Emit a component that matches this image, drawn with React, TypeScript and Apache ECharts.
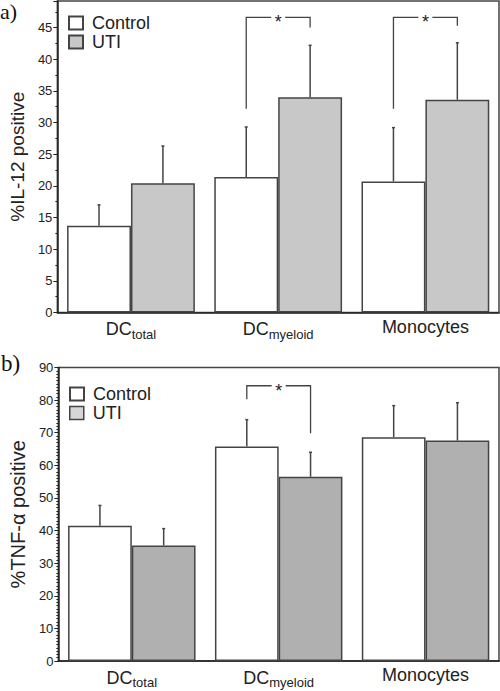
import React, { useEffect, useRef } from "react";
import * as echarts from "echarts";

const categories = ["DCtotal", "DCmyeloid", "Monocytes"];

const il12Control = [13.7, 21.4, 20.7];
const il12ControlErr = [3.3, 7.9, 8.5];
const il12Uti = [20.4, 34.0, 33.6];
const il12UtiErr = [5.9, 8.2, 9.0];

const tnfControl = [41.5, 65.8, 68.6];
const tnfControlErr = [6.2, 8.2, 9.7];
const tnfUti = [35.4, 56.5, 67.6];
const tnfUtiErr = [5.2, 7.5, 11.6];

// [category index, left foot, top, right foot]
const il12Brackets = [
  [1, 32.2, 46.6, 45.0],
  [2, 32.2, 46.6, 45.3],
];
const tnfBrackets = [[1, 80.3, 84.4, 69.8]];

const il12Ticks = [0, 5, 10, 15, 20, 25, 30, 35, 40, 45];
const tnfTicks = [0, 10, 20, 30, 40, 50, 60, 70, 80, 90];

const GAP = 0.132;
const EDGE = "#444";
const AXIS = "#222";
const FONT = "Liberation Sans, Arial, sans-serif";

function errData(means: number[], errs: number[], side: number) {
  return means.map((m, i) => [i, m, m + errs[i], side]);
}

const errRender = (params: any, api: any) => {
  const cat = api.value(0);
  const p = api.coord([cat, api.value(1)]);
  const pu = api.coord([cat, api.value(2)]);
  const band = api.size([1, 0])[0];
  const barW = (band * (1 - GAP)) / 2;
  const x = p[0] + (api.value(3) * barW) / 2;
  return {
    type: "group",
    children: [
      {
        type: "line",
        shape: { x1: x, y1: p[1], x2: x, y2: pu[1] },
        style: { stroke: EDGE, lineWidth: 1.5 },
      },
      {
        type: "line",
        shape: { x1: x - 1.5, y1: pu[1], x2: x + 1.5, y2: pu[1] },
        style: { stroke: EDGE, lineWidth: 1.5 },
      },
    ],
  };
};

const bracketRender = (params: any, api: any) => {
  const cat = api.value(0);
  const c = api.coord([cat, api.value(2)]);
  const lb = api.coord([cat, api.value(1)]);
  const rb = api.coord([cat, api.value(3)]);
  const band = api.size([1, 0])[0];
  const barW = (band * (1 - GAP)) / 2;
  const lx = c[0] - barW / 2;
  const rx = c[0] + barW / 2;
  const y = c[1];
  return {
    type: "group",
    children: [
      {
        type: "polyline",
        shape: { points: [[lx, lb[1]], [lx, y], [c[0] - 7, y]] },
        style: { stroke: EDGE, lineWidth: 1.3, fill: null },
      },
      {
        type: "polyline",
        shape: { points: [[c[0] + 7, y], [rx, y], [rx, rb[1]]] },
        style: { stroke: EDGE, lineWidth: 1.3, fill: null },
      },
      {
        type: "text",
        x: c[0],
        y: y + 5,
        style: {
          text: "*",
          fontSize: 18,
          fontFamily: FONT,
          fill: AXIS,
          align: "center",
          verticalAlign: "middle",
        },
      },
    ],
  };
};

const catLabel = (v: string) =>
  v.startsWith("DC") ? `{m|DC}{s|${v.slice(2)}}` : `{m|${v}}`;

const legendItem = (name: string, left: number, top: number, size: number, fill?: string) => ({
  orient: "vertical",
  left,
  top,
  padding: 0,
  itemWidth: size + 1,
  itemHeight: size,
  icon: "rect",
  data: [fill ? { name, itemStyle: { color: fill } } : name],
  ...(fill ? { itemStyle: { color: fill, borderColor: EDGE, borderWidth: 1.5 } } : {}),
  formatter: (n: string) => n.trim(),
  textStyle: { fontSize: 18, fontFamily: FONT, color: AXIS, padding: [0, 0, 0, 4] },
});

export default function App() {
  const ref = useRef<HTMLDivElement>(null);
  useEffect(() => {
    if (!ref.current) return;
    const chart = echarts.init(ref.current, null, { renderer: "svg" });
    const xAxisBase = (gridIndex: number) => ({
      type: "category",
      gridIndex,
      data: categories,
      axisTick: { show: false },
      axisLine: { lineStyle: { color: AXIS, width: 1.5 } },
      axisLabel: {
        margin: 5,
        formatter: catLabel,
        rich: {
          m: { fontSize: 18, fontFamily: FONT, color: AXIS },
          s: { fontSize: 13, fontFamily: FONT, color: AXIS, padding: [10, 0, 0, 0] },
        },
      },
    });
    const labelFmt = (ticks: number[]) => (v: number) =>
      ticks.indexOf(Math.round(v * 100) / 100) >= 0 ? String(v) : "";
    chart.setOption({
      animation: false,
      grid: [
        {
          left: 46,
          top: 1,
          width: 453,
          height: 311.5,
          show: true,
          borderColor: EDGE,
          borderWidth: 1.5,
        },
        {
          left: 47.5,
          top: 367.5,
          width: 451.5,
          height: 293.5,
          show: true,
          borderColor: EDGE,
          borderWidth: 1.5,
        },
      ],
      legend: [
        legendItem("Control", 68, 14, 13),
        legendItem("UTI", 68, 33, 13),
        legendItem("Control ", 69, 385, 13),
        legendItem("UTI ", 69, 404, 13, "#d6d6d6"),
      ],
      xAxis: [xAxisBase(0), xAxisBase(1)],
      yAxis: [
        {
          type: "value",
          gridIndex: 0,
          min: 0,
          max: 49.2,
          interval: 5,
          name: "%IL-12 positive",
          nameLocation: "middle",
          nameGap: 26,
          nameTextStyle: { fontSize: 19, fontFamily: FONT, color: AXIS },
          splitLine: { show: false },
          axisLine: { show: true, lineStyle: { color: AXIS, width: 1.5 } },
          axisTick: { show: true, length: 4, lineStyle: { color: AXIS } },
          minorTick: { show: true, splitNumber: 2, length: 2, lineStyle: { color: AXIS } },
          axisLabel: {
            fontSize: 13,
            fontFamily: FONT,
            color: AXIS,
            margin: 5,
            formatter: labelFmt(il12Ticks),
          },
        },
        {
          type: "value",
          gridIndex: 1,
          min: 0,
          max: 90,
          interval: 10,
          name: "%TNF-\u03b1 positive",
          nameLocation: "middle",
          nameGap: 27,
          nameTextStyle: { fontSize: 20, fontFamily: FONT, color: AXIS },
          splitLine: { show: false },
          axisLine: { show: true, lineStyle: { color: AXIS, width: 1.5 } },
          axisTick: { show: true, length: 4, lineStyle: { color: AXIS } },
          minorTick: { show: true, splitNumber: 10, length: 2, lineStyle: { color: AXIS } },
          axisLabel: {
            fontSize: 13,
            fontFamily: FONT,
            color: AXIS,
            margin: 5,
            formatter: labelFmt(tnfTicks),
          },
        },
      ],
      graphic: [
        {
          type: "text",
          left: 0,
          top: 0,
          style: { text: "a)", fontSize: 22, fontFamily: "Liberation Serif, serif", fill: "#111" },
        },
        {
          type: "text",
          left: 1,
          top: 352,
          style: { text: "b)", fontSize: 23, fontFamily: "Liberation Serif, serif", fill: "#111" },
        },
      ],
      series: [
        {
          name: "Control",
          type: "bar",
          xAxisIndex: 0,
          yAxisIndex: 0,
          data: il12Control,
          barGap: "0%",
          barCategoryGap: "13.2%",
          itemStyle: { color: "#ffffff", borderColor: EDGE, borderWidth: 1.5 },
        },
        {
          name: "UTI",
          type: "bar",
          xAxisIndex: 0,
          yAxisIndex: 0,
          data: il12Uti,
          barGap: "0%",
          barCategoryGap: "13.2%",
          itemStyle: { color: "#c8c8c8", borderColor: EDGE, borderWidth: 1.5 },
        },
        {
          name: "Control ",
          type: "bar",
          xAxisIndex: 1,
          yAxisIndex: 1,
          data: tnfControl,
          barGap: "0%",
          barCategoryGap: "13.2%",
          itemStyle: { color: "#ffffff", borderColor: EDGE, borderWidth: 1.5 },
        },
        {
          name: "UTI ",
          type: "bar",
          xAxisIndex: 1,
          yAxisIndex: 1,
          data: tnfUti,
          barGap: "0%",
          barCategoryGap: "13.2%",
          itemStyle: { color: "#b0b0b0", borderColor: EDGE, borderWidth: 1.5 },
        },
        {
          type: "custom",
          xAxisIndex: 0,
          yAxisIndex: 0,
          renderItem: errRender,
          data: [...errData(il12Control, il12ControlErr, -1), ...errData(il12Uti, il12UtiErr, 1)],
          z: 5,
        },
        {
          type: "custom",
          xAxisIndex: 1,
          yAxisIndex: 1,
          renderItem: errRender,
          data: [...errData(tnfControl, tnfControlErr, -1), ...errData(tnfUti, tnfUtiErr, 1)],
          z: 5,
        },
        {
          type: "custom",
          xAxisIndex: 0,
          yAxisIndex: 0,
          renderItem: bracketRender,
          data: il12Brackets,
          clip: false,
          z: 5,
        },
        {
          type: "custom",
          xAxisIndex: 1,
          yAxisIndex: 1,
          renderItem: bracketRender,
          data: tnfBrackets,
          clip: false,
          z: 5,
        },
      ],
    });
    return () => chart.dispose();
  }, []);
  return (
    <div
      ref={ref}
      style={{ position: "absolute", left: 0, top: 0, width: 500, height: 691, background: "#fff" }}
    />
  );
}
